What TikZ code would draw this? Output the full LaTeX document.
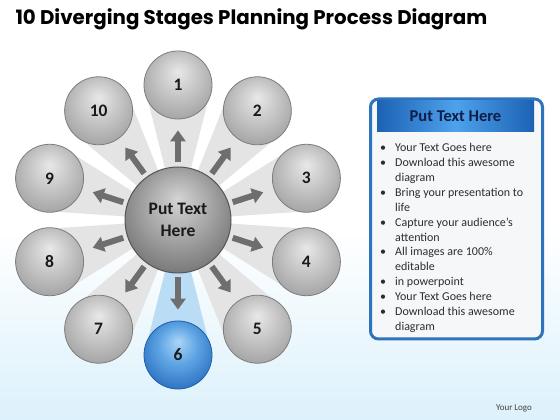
\documentclass[tikz,border=0pt]{standalone}
\usepackage{fontspec}
\setmainfont{Carlito}
\newfontfamily\titlefont{Poppins}
\usetikzlibrary{calc,arrows.meta}
\definecolor{bgblue}{RGB}{220,241,251}
\definecolor{raygrey}{RGB}{228,228,228}
\definecolor{rayblue}{RGB}{186,220,244}
\definecolor{arrowgrey}{RGB}{110,110,110}
\definecolor{rimgrey}{RGB}{125,125,125}
\definecolor{rimdark}{RGB}{85,85,85}
\definecolor{rimblue}{RGB}{30,95,170}
\definecolor{panelblue}{RGB}{45,115,190}
\definecolor{panelfill}{RGB}{246,247,248}
\definecolor{hdrdark}{RGB}{28,98,180}
\definecolor{hdrlight}{RGB}{78,162,236}
\definecolor{hdrtext}{RGB}{15,30,72}
\definecolor{bodytext}{RGB}{45,45,45}
\definecolor{sgA}{RGB}{232,232,232}
\definecolor{sgB}{RGB}{200,200,200}
\definecolor{sgC}{RGB}{168,168,168}
\definecolor{sgD}{RGB}{150,150,150}
\definecolor{hbA}{RGB}{212,212,212}
\definecolor{hbB}{RGB}{170,170,170}
\definecolor{hbC}{RGB}{125,125,125}
\definecolor{hbD}{RGB}{108,108,108}
\definecolor{blA}{RGB}{170,214,246}
\definecolor{blB}{RGB}{95,165,228}
\definecolor{blC}{RGB}{50,120,198}
\definecolor{blD}{RGB}{40,102,178}
\pgfdeclareradialshading{greysphere}{\pgfpoint{0bp}{10bp}}{color(0bp)=(sgA); color(14bp)=(sgB); color(28bp)=(sgC); color(36bp)=(sgD); color(50bp)=(sgD)}
\pgfdeclareradialshading{hubsphere}{\pgfpoint{0bp}{10bp}}{color(0bp)=(hbA); color(14bp)=(hbB); color(28bp)=(hbC); color(36bp)=(hbD); color(50bp)=(hbD)}
\pgfdeclareradialshading{bluesphere}{\pgfpoint{0bp}{10bp}}{color(0bp)=(blA); color(14bp)=(blB); color(28bp)=(blC); color(36bp)=(blD); color(50bp)=(blD)}
\tikzstyle{stage} = [circle,draw=rimgrey,line width=0.8pt,shade,shading=greysphere,minimum size=68pt,inner sep=0pt,text=black!90,font=\bfseries\fontsize{17.5}{17.5}\selectfont]
\tikzstyle{stage 6} = [draw=rimblue,shading=bluesphere]
\tikzstyle{hub} = [circle,draw=rimdark,line width=1pt,shade,shading=hubsphere,minimum size=106pt,inner sep=0pt,align=center,text=black!90,font=\bfseries\fontsize{17.5}{22}\selectfont]
\tikzstyle{ray} = [fill=raygrey]
\tikzstyle{ray 6} = [fill=rayblue]
\tikzstyle{spoke} = [line width=6pt,draw=arrowgrey,-{Triangle[width=15pt,length=11pt]},shorten <=4pt,shorten >=11pt]
\tikzstyle{panel} = [draw=panelblue,line width=3pt,fill=panelfill,rounded corners=8pt,minimum width=172pt,minimum height=240pt]
\tikzstyle{hdr} = [left color=hdrdark,right color=hdrdark,middle color=hdrlight,minimum width=157pt,minimum height=31pt,text=hdrtext,font=\bfseries\fontsize{16.5}{16.5}\selectfont]

\begin{document}
\begin{tikzpicture}[x=1pt,y=1pt]
\useasboundingbox (0,0) rectangle (560,420);
\fill[white] (0,190) rectangle (560,420);
\shade[top color=white,bottom color=bgblue] (0,0) rectangle (560,190);

\node[anchor=base west,font=\titlefont\bfseries\fontsize{19.8}{21}\selectfont] (title) at (12,395) {10 Diverging Stages Planning Process Diagram};

\coordinate (o) at (178,200);
\foreach \i in {1,...,10}{
  \pgfmathsetmacro\ang{90-36*(\i-1)}
  \coordinate (p\i) at ($(o)+(\ang:135)$);
  \fill[ray,ray \i/.try] (o) -- ($(p\i)!34pt!90:(o)$) -- ($(p\i)!34pt!-90:(o)$) -- cycle;
}
\node[hub] (hub) at (o) {Put Text\\Here};
\foreach \i in {1,...,10}{
  \node[stage,stage \i/.try] (s\i) at (p\i) {\i};
  \draw[spoke] (hub) -- (s\i);
}

\node[panel] (box) at (456.5,201) {};
\node[hdr] (hdr) at (455.5,304) {Put Text Here};
\node[anchor=north west,inner sep=0pt,text=bodytext,font=\fontsize{12}{14.9}\selectfont] (lst) at (380,279) {%
\begin{tabular}{@{}p{15pt}@{}l@{}}
\textbullet & Your Text Goes here\\
\textbullet & Download this awesome\\
 & diagram\\
\textbullet & Bring your presentation to\\
 & life\\
\textbullet & Capture your audience’s\\
 & attention\\
\textbullet & All images are 100\%\\
 & editable\\
\textbullet & in powerpoint\\
\textbullet & Your Text Goes here\\
\textbullet & Download this awesome\\
 & diagram
\end{tabular}};

\node[text=black!75,font=\fontsize{9}{9}\selectfont] (logo) at (514,12) {Your Logo};
\end{tikzpicture}
\end{document}
